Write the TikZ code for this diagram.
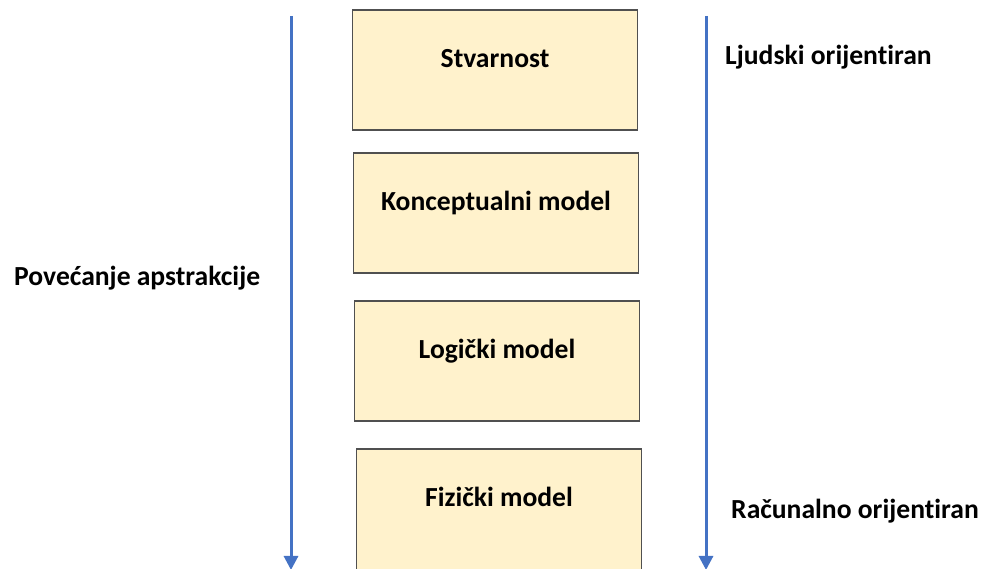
\documentclass[tikz,border=0pt]{standalone}
\usepackage{fontspec}
\setmainfont{Carlito}[Ligatures={NoCommon}]
\usetikzlibrary{arrows.meta}
\definecolor{boxfill}{HTML}{FFF2CC}
\definecolor{boxdraw}{HTML}{505050}
\definecolor{arrowblue}{HTML}{4472C4}
\tikzset{
  levelbox/.style={draw=boxdraw, fill=boxfill, line width=1.1pt, inner sep=0pt,
    minimum width=285pt, text height=58pt, text depth=62pt, anchor=base,
    font=\fontsize{27.6}{32}\selectfont\bfseries},
  sidelabel/.style={inner sep=0pt, anchor=base west, font=\fontsize{27.6}{32}\selectfont\bfseries},
  flowarrow/.style={draw=arrowblue, line width=3pt, -{Triangle[width=14pt,length=14pt]}}
}
\begin{document}
\begin{tikzpicture}[x=1pt,y=1pt]
\useasboundingbox (0,0) rectangle (981,569);
% boxes (y measured from the top: y_tikz = 569 - y_px)
\node[levelbox] (b1) at (495,{569-68}) {Stvarnost};
\node[levelbox] (b2) at (496,{569-211}) {Konceptualni model};
\node[levelbox] (b3) at (497,{569-359}) {Logički model};
\node[levelbox, text depth=70pt] (b4) at (499,{569-507}) {Fizički model};
% side labels
\node[sidelabel] (lab1) at (725,{569-65}) {Ljudski orijentiran};
\node[sidelabel] (lab2) at (14,{569-286}) {Povećanje apstrakcije};
\node[sidelabel] (lab3) at (731,{569-519}) {Računalno orijentiran};
% arrows
\coordinate (lt) at (291,{569-16});
\coordinate (lb) at (291,-1);
\coordinate (rt) at (706,{569-16});
\coordinate (rb) at (706,-1);
\draw[flowarrow] (lt) -- (lb);
\draw[flowarrow] (rt) -- (rb);
\end{tikzpicture}
\end{document}
